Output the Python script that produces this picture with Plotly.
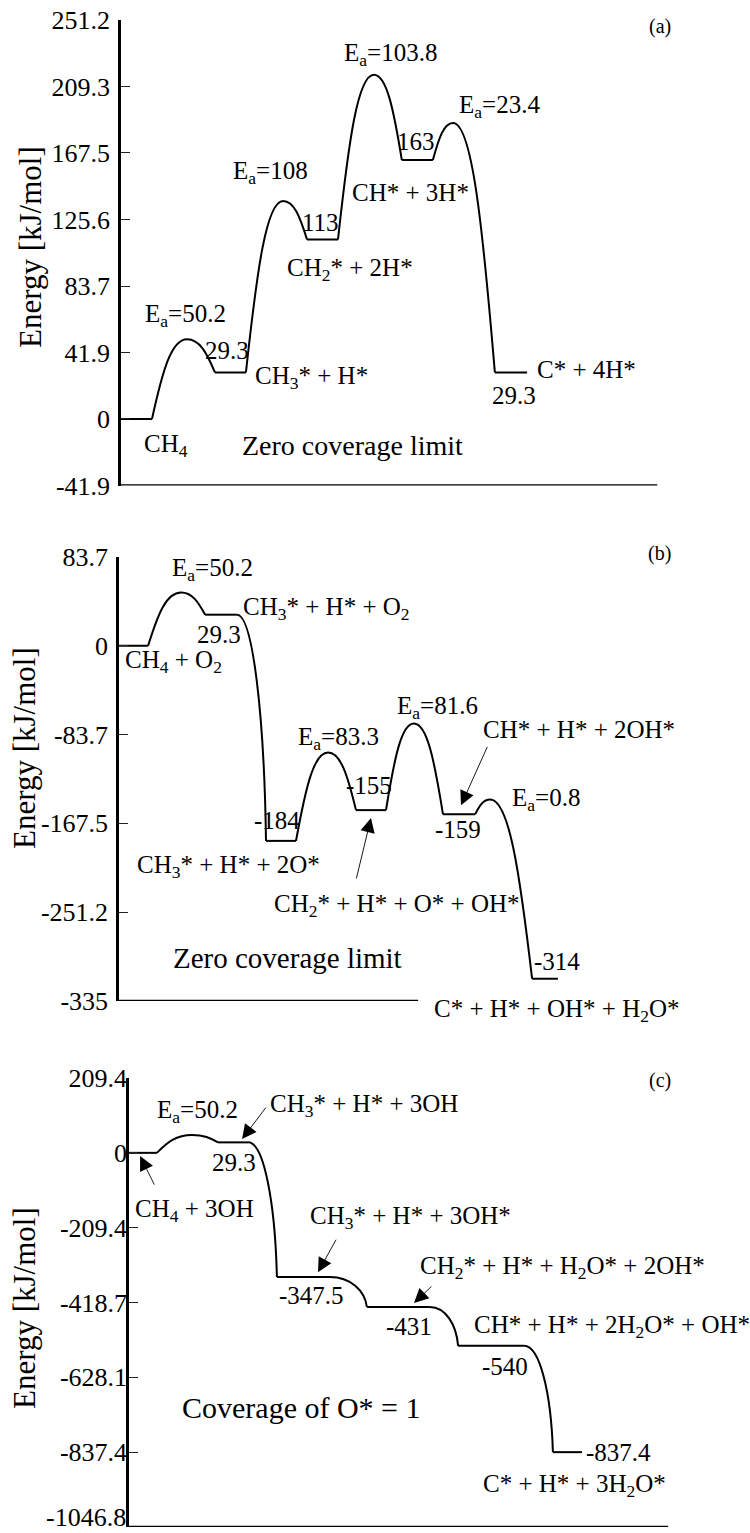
import plotly.graph_objects as go

FONT = "Liberation Serif"
W, H = 750, 1533

# ---------------- data ----------------
# Panel (a): zero coverage limit
a_levels = [0, 29.3, 113, 163, 29.3]
a_ea = [50.2, 108, 103.8, 23.4]
a_tops = [a_levels[i] + a_ea[i] for i in range(len(a_ea))]
a_start = [0, 3.03, 6.0, 9.06, 12.06]
a_end = [1.0, 4.03, 7.0, 10.06, 13.1]
a_peak_x = [2.13, 5.23, 8.16, 10.71]
a_yticks = [-41.9, 0, 41.9, 83.7, 125.6, 167.5, 209.3, 251.2]
a_yticktext = ["-41.9", "0", "41.9", "83.7", "125.6", "167.5", "209.3", "251.2"]

# Panel (b): zero coverage limit with O2
b_levels = [0, 29.3, -184, -155, -159, -314]
b_tops = [50.2, None, -100.7, -73.4, -145]
b_start = [0, 2.87, 4.9, 7.9, 10.8, 13.77]
b_end = [0.97, 3.93, 5.9, 8.9, 11.87, 14.63]
b_peak_x = [2.07, None, 6.97, 9.83, 12.37]
b_yticks = [-335, -251.2, -167.5, -83.7, 0, 83.7]
b_yticktext = ["-335", "-251.2", "-167.5", "-83.7", "0", "83.7"]

# Panel (c): coverage of O* = 1
c_levels = [0, 29.3, -347.5, -431, -540, -837.4]
c_tops = [50.2, None, None, None, None]
c_start = [0, 2.97, 4.93, 7.93, 10.97, 14.13]
c_end = [0.93, 3.97, 6.7, 10.03, 13.17, 15.1]
c_peak_x = [2.1, None, None, None, None]
c_yticks = [-1046.8, -837.4, -628.1, -418.7, -209.4, 0, 209.4]
c_yticktext = ["-1046.8", "-837.4", "-628.1", "-418.7", "-209.4", "0", "209.4"]

# ---------------- layout geometry (pixels) ----------------
panels = [
    dict(key="", axis_px=121, unit=31, top=20, bot=485.5, ymin=-41.9, ymax=251.2, xline_end=17.3,
         levels=a_levels, tops=a_tops, start=a_start, end=a_end, peak_x=a_peak_x,
         tv=a_yticks, tt=a_yticktext, standoff=3),
    dict(key="2", axis_px=119, unit=30, top=557, bot=1001, ymin=-335, ymax=83.7, xline_end=9.97,
         levels=b_levels, tops=b_tops, start=b_start, end=b_end, peak_x=b_peak_x,
         tv=b_yticks, tt=b_yticktext, standoff=3),
    dict(key="3", axis_px=129, unit=30, top=1078, bot=1527, ymin=-1046.8, ymax=209.4, xline_end=17.97,
         levels=c_levels, tops=c_tops, start=c_start, end=c_end, peak_x=c_peak_x,
         tv=c_yticks, tt=[""] + c_yticktext[1:], standoff=-6),
]

fig = go.Figure()
shapes = []
annotations = []


def fmt(x, y):
    return f"{x:.4f},{y:.4f}"


for p in panels:
    xr = "x" + p["key"]
    yr = "y" + p["key"]
    # plateaus
    xs, ys = [], []
    for i, lv in enumerate(p["levels"]):
        xs += [p["start"][i], p["end"][i], None]
        ys += [lv, lv, None]
    fig.add_trace(go.Scatter(x=xs, y=ys, mode="lines", line=dict(color="black", width=2),
                             xaxis=xr, yaxis=yr, showlegend=False, hoverinfo="skip"))
    # transitions
    for i in range(len(p["levels"]) - 1):
        x0, y0 = p["end"][i], p["levels"][i]
        x1, y1 = p["start"][i + 1], p["levels"][i + 1]
        top = p["tops"][i]
        if top is not None:
            xp = p["peak_x"][i]
            d1x, d1y = xp - x0, top - y0
            d2x, d2y = x1 - xp, top - y1
            path = ("M " + fmt(x0, y0) +
                    " C " + fmt(x0 + 0.3 * d1x, y0 + 0.6 * d1y) + " " + fmt(xp - 0.45 * d1x, top) + " " + fmt(xp, top) +
                    " C " + fmt(xp + 0.45 * d2x, top) + " " + fmt(x1 - 0.3 * d2x, y1 + 0.6 * d2y) + " " + fmt(x1, y1))
        else:
            dx, dy = x1 - x0, y0 - y1
            path = ("M " + fmt(x0, y0) +
                    " C " + fmt(x0 + 0.55 * dx, y0) + " " + fmt(x1 - 0.06 * dx, y1 + 0.55 * dy) + " " + fmt(x1, y1))
        shapes.append(dict(type="path", path=path, xref=xr, yref=yr,
                           line=dict(color="black", width=2)))
    # bottom axis line
    shapes.append(dict(type="line", xref=xr, yref=yr, x0=0, x1=p["xline_end"], y0=p["ymin"], y1=p["ymin"],
                       line=dict(color="black", width=2.5)))

    xa = dict(domain=[p["axis_px"] / W, 1], range=[0, (W - p["axis_px"]) / p["unit"]],
              showline=False, showgrid=False, zeroline=False, showticklabels=False, ticks="",
              anchor=yr, fixedrange=True, automargin=False)
    ya = dict(domain=[1 - p["bot"] / H, 1 - p["top"] / H], range=[p["ymin"], p["ymax"]],
              showline=True, linecolor="black", linewidth=2.5, showgrid=False, zeroline=False,
              ticks="inside", ticklen=9, tickwidth=1.2, tickcolor="#222",
              tickmode="array", tickvals=p["tv"], ticktext=p["tt"],
              tickfont=dict(family=FONT, size=26, color="black"),
              ticklabelstandoff=p["standoff"], ticklabeloverflow="allow",
              anchor=xr, fixedrange=True, automargin=False)
    fig.layout["xaxis" + p["key"]] = xa
    fig.layout["yaxis" + p["key"]] = ya


def lab(text, x, y, k, xanchor="left", size=25):
    annotations.append(dict(text=text, x=x, y=y, xref="x" + k, yref="y" + k, showarrow=False,
                            xanchor=xanchor, yanchor="middle",
                            font=dict(family=FONT, size=size, color="black")))


def plab(text, px, py, xanchor="left", size=25, angle=0):
    annotations.append(dict(text=text, x=px / W, y=1 - py / H, xref="paper", yref="paper", showarrow=False,
                            xanchor=xanchor, yanchor="middle", textangle=angle,
                            font=dict(family=FONT, size=size, color="black")))


def arrow(k, tipx, tipy, tailx, taily):
    annotations.append(dict(text="", x=tipx, y=tipy, ax=tailx, ay=taily, xref="x" + k, yref="y" + k,
                            axref="x" + k, ayref="y" + k, showarrow=True, arrowhead=2, arrowsize=3.2,
                            arrowwidth=0.9, arrowcolor="black", standoff=0, startstandoff=0,
                            font=dict(family=FONT, size=12, color="black")))


# ---- panel (a) labels ----
lab("E<sub>a</sub>=50.2", 0.71, 64.9, "")
lab("29.3", 3.42, 43.4, "", "center")
lab("CH<sub>3</sub>* + H*", 4.26, 25.8, "")
lab("CH<sub>4</sub>", 0.68, -16.4, "")
lab("Zero coverage limit", 3.84, -16.4, "", size=28)
lab("E<sub>a</sub>=108", 3.55, 154.9, "")
lab("113", 6.42, 124, "", "center")
lab("CH<sub>2</sub>* + 2H*", 5.29, 93.8, "")
lab("E<sub>a</sub>=103.8", 7.13, 229.2, "")
lab("163", 9.52, 174.4, "", "center")
lab("CH* + 3H*", 7.39, 142.9, "")
lab("E<sub>a</sub>=23.4", 10.84, 196.5, "")
lab("C* + 4H*", 13.35, 30.9, "")
lab("29.3", 12.68, 14.5, "", "center")
lab("(a)", 17.39, 246.8, "", "center", size=20)

# ---- panel (b) labels ----
lab("E<sub>a</sub>=50.2", 1.7, 71.5, "2")
lab("CH<sub>3</sub>* + H* + O<sub>2</sub>", 4.07, 35.6, "2")
lab("29.3", 3.33, 10.2, "2", "center")
lab("CH<sub>4</sub> + O<sub>2</sub>", 0.13, -15.3, "2")
lab("E<sub>a</sub>=83.3", 5.9, -87.0, "2")
lab("E<sub>a</sub>=81.6", 9.2, -58.3, "2")
lab("CH* + H* + 2OH*", 12.07, -79.0, "2")
lab("-155", 8.33, -132.2, "2", "center")
lab("-184", 5.27, -165.2, "2", "center")
lab("E<sub>a</sub>=0.8", 13.03, -145.4, "2")
lab("-159", 11.3, -173.7, "2", "center")
lab("CH<sub>3</sub>* + H* + 2O*", 0.53, -208.6, "2")
lab("CH<sub>2</sub>* + H* + O* + OH*", 5.1, -244.5, "2")
lab("Zero coverage limit", 1.73, -294.5, "2", size=29)
lab("-314", 14.6, -297.3, "2", "center")
plab("C* + H* + OH* + H<sub>2</sub>O*", 432, 1010)
plab("(b)", 659, 553, "center", size=20)
arrow("2", 11.4, -150.5, 12.3, -93.9)
arrow("2", 8.4, -162.4, 7.9, -220.9)

# ---- panel (c) labels ----
lab("E<sub>a</sub>=50.2", 0.87, 114.3, "3")
lab("CH<sub>3</sub>* + H* + 3OH", 4.63, 133.8, "3")
lab("29.3", 3.5, -25.6, "3", "center")
lab("CH<sub>4</sub> + 3OH", 0.13, -159.9, "3")
lab("CH<sub>3</sub>* + H* + 3OH*", 5.97, -179.5, "3")
lab("-347.5", 6.07, -400.5, "3", "center")
lab("CH<sub>2</sub>* + H* + H<sub>2</sub>O* + 2OH*", 9.63, -319.4, "3")
lab("-431", 9.33, -487.2, "3", "center")
lab("CH* + H* + 2H<sub>2</sub>O* + OH*", 11.43, -487.2, "3")
lab("-540", 12.53, -599.1, "3", "center")
lab("Coverage of O* = 1", 1.7, -711.1, "3", size=30)
lab("-837.4", 15.17, -837.0, "3")
lab("C* + H* + 3H<sub>2</sub>O*", 11.73, -929.4, "3")
lab("(c)", 17.7, 203.8, "3", "center", size=20)
arrow("3", 0.37, -8.8, 0.87, -93.2)
arrow("3", 3.77, 38.6, 4.6, 130.8)
arrow("3", 6.3, -334.0, 6.93, -238.8)
arrow("3", 9.5, -420.3, 10.13, -369.9)
# lowest tick label of panel (c), kept fully inside the page
annotations.append(dict(text=c_yticktext[0], x=127 / W, y=0, xref="paper", yref="paper", showarrow=False,
                        xanchor="right", yanchor="bottom", borderpad=0,
                        font=dict(family=FONT, size=26, color="black")))

# ---- y axis titles ----
plab("Energy [kJ/mol]", 31, 247, "center", size=31, angle=-90)
plab("Energy [kJ/mol]", 24, 748, "center", size=31, angle=-90)
plab("Energy [kJ/mol]", 24, 1308, "center", size=31, angle=-90)

fig.update_layout(width=W, height=H, margin=dict(l=0, r=0, t=0, b=0, autoexpand=False),
                  paper_bgcolor="white", plot_bgcolor="white",
                  shapes=shapes, annotations=annotations, showlegend=False,
                  font=dict(family=FONT, color="black", size=25))

fig.write_html("out.html", include_plotlyjs=True, config={"displayModeBar": False})
